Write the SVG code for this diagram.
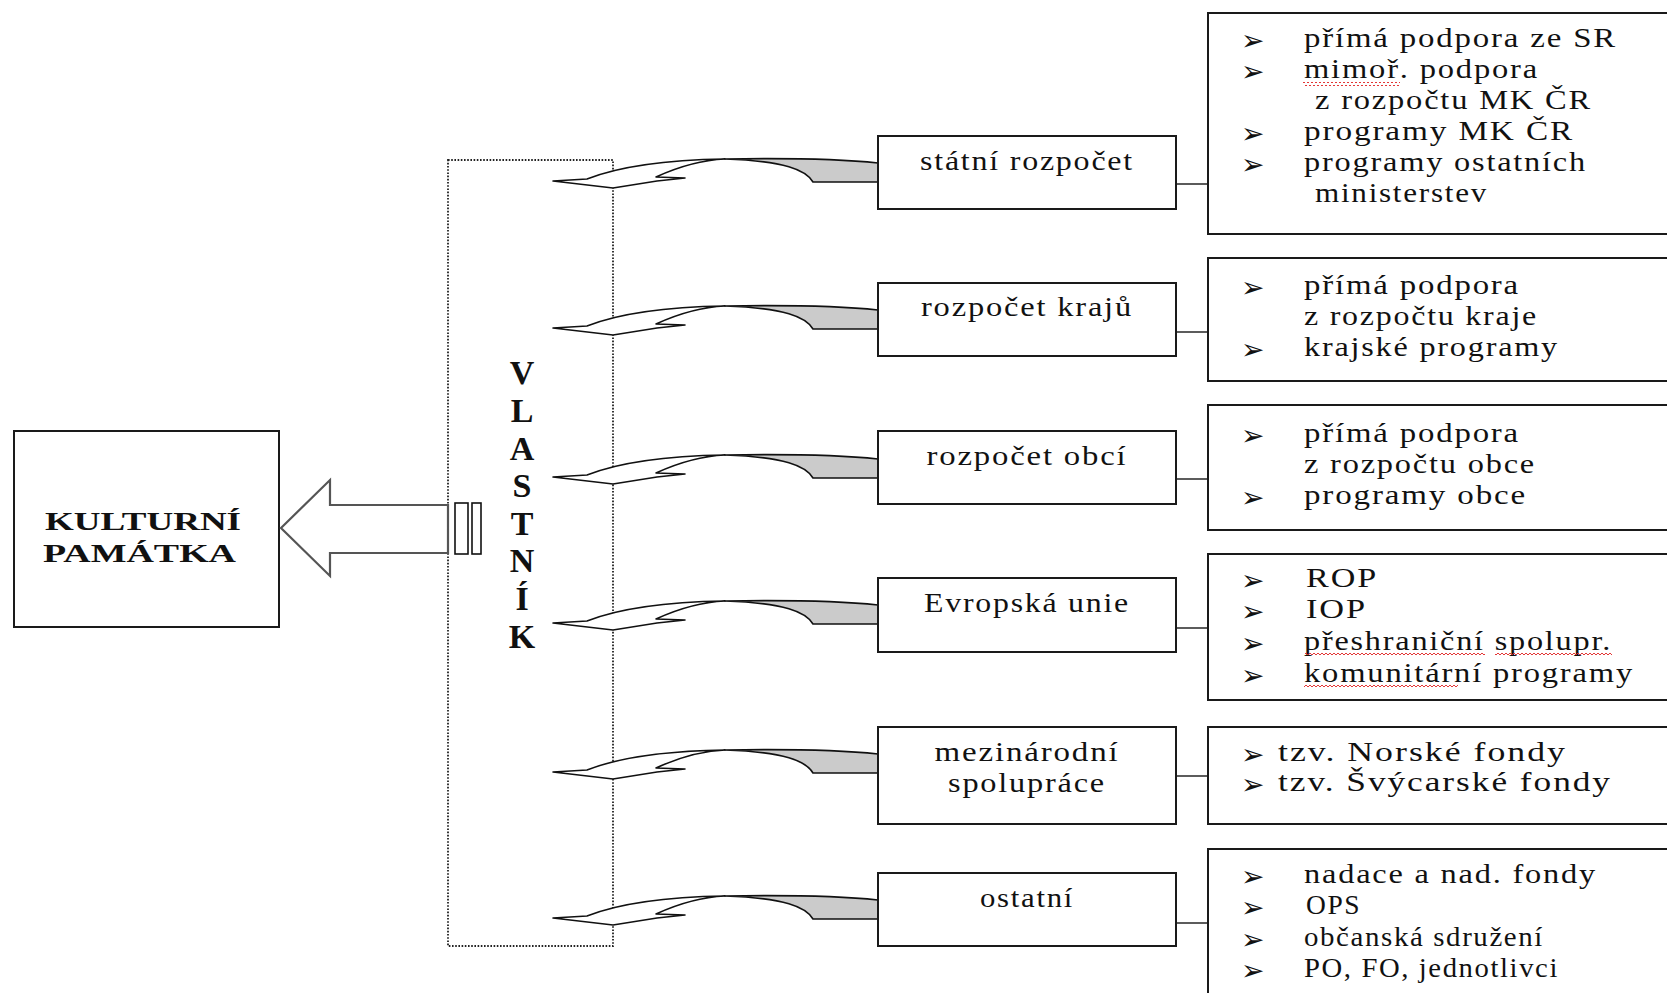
<svg xmlns="http://www.w3.org/2000/svg" width="1667" height="993" viewBox="0 0 1667 993">
<style>
.box{fill:#fff;stroke:#1a1a1a;stroke-width:2}
.t{font-family:"Liberation Serif",serif;font-size:27px;letter-spacing:1.5px;fill:#111}
.tb{font-family:"Liberation Serif",serif;font-size:25px;font-weight:bold;fill:#111}
.v{font-family:"Liberation Serif",serif;font-size:34px;font-weight:bold;fill:#111}
.b{font-family:"DejaVu Sans",sans-serif;font-size:28px;fill:#111}
.conn{stroke:#333;stroke-width:1.6;fill:none}
.cw{fill:#fff;stroke:#111;stroke-width:1.6;stroke-linejoin:round}
.cg{fill:#cbcbcb;stroke:#111;stroke-width:1.6;stroke-linejoin:round}
.dot{fill:none;stroke:#222;stroke-width:1.8;stroke-dasharray:1.6 1.6}
</style>
<defs>
<pattern id="squig" width="4" height="4" patternUnits="userSpaceOnUse">
<path d="M0,3 L2,1 L4,3" fill="none" stroke="#e02020" stroke-width="0.9"/>
</pattern>
<g id="carrow">
<path class="cw" d="M553,181 L587,179 C615,168 660,160 725,159 C702,160 680,166 656,177 L685,178 L657,181 L613,188 Z"/>
<path class="cg" d="M725,159 C785,158 840,159 878,163 L878,182 L813,182 C806,170 785,161 725,159 Z"/>
</g>
</defs>
<rect width="1667" height="993" fill="#fff"/>

<g id="vlastnik">
<rect class="dot" x="448" y="160" width="165" height="786"/>
<text class="v" text-anchor="middle"><tspan x="522" y="384">V</tspan><tspan x="522" y="422">L</tspan><tspan x="522" y="460">A</tspan><tspan x="522" y="497">S</tspan><tspan x="522" y="535">T</tspan><tspan x="522" y="572">N</tspan><tspan x="522" y="610">Í</tspan><tspan x="522" y="648">K</tspan></text>
</g>

<g id="pamatka">
<rect class="box" x="14" y="431" width="265" height="196"/>
<text class="tb"><tspan x="45" y="530" textLength="196" lengthAdjust="spacingAndGlyphs">KULTURNÍ</tspan><tspan x="43" y="562" textLength="193" lengthAdjust="spacingAndGlyphs">PAMÁTKA</tspan></text>
</g>

<g id="connectors">
<path d="M281,528 L330,480 L330,505 L448,505 L448,553 L330,553 L330,576 Z" fill="#fff" stroke="#555" stroke-width="2.2" stroke-linejoin="miter"/>
<rect x="455" y="503" width="13" height="51" fill="#fff" stroke="#111" stroke-width="1.6"/>
<rect x="472" y="503" width="9" height="51" fill="#fff" stroke="#111" stroke-width="1.6"/>
<use href="#carrow"/>
<use href="#carrow" transform="translate(0,147)"/>
<use href="#carrow" transform="translate(0,296)"/>
<use href="#carrow" transform="translate(0,442)"/>
<use href="#carrow" transform="translate(0,591)"/>
<use href="#carrow" transform="translate(0,737)"/>
<line class="conn" x1="1176" y1="184" x2="1208" y2="184"/>
<line class="conn" x1="1176" y1="332" x2="1208" y2="332"/>
<line class="conn" x1="1176" y1="479" x2="1208" y2="479"/>
<line class="conn" x1="1176" y1="628" x2="1208" y2="628"/>
<line class="conn" x1="1176" y1="776" x2="1208" y2="776"/>
<line class="conn" x1="1176" y1="923" x2="1208" y2="923"/>
</g>

<g id="statni">
<rect class="box" x="878" y="136" width="298" height="73"/>
<text class="t" x="1027" y="170" text-anchor="middle" textLength="214" lengthAdjust="spacingAndGlyphs">státní rozpočet</text>
</g>
<g id="statni-list">
<rect class="box" x="1208" y="13" width="470" height="221"/>
<text class="b" x="1241" y="50">➢</text><text class="t" x="1304" y="47" textLength="313" lengthAdjust="spacingAndGlyphs">přímá podpora ze SR</text>
<text class="b" x="1241" y="81">➢</text><text class="t" x="1304" y="78" textLength="235" lengthAdjust="spacingAndGlyphs">mimoř. podpora</text>
<rect x="1303" y="82" width="97" height="4" fill="url(#squig)"/>
<text class="t" x="1315" y="109" textLength="277" lengthAdjust="spacingAndGlyphs">z rozpočtu MK ČR</text>
<text class="b" x="1241" y="143">➢</text><text class="t" x="1304" y="140" textLength="270" lengthAdjust="spacingAndGlyphs">programy MK ČR</text>
<text class="b" x="1241" y="174">➢</text><text class="t" x="1304" y="171" textLength="283" lengthAdjust="spacingAndGlyphs">programy ostatních</text>
<text class="t" x="1315" y="202" textLength="173" lengthAdjust="spacingAndGlyphs">ministerstev</text>
</g>

<g id="kraje">
<rect class="box" x="878" y="283" width="298" height="73"/>
<text class="t" x="1027" y="316" text-anchor="middle" textLength="212" lengthAdjust="spacingAndGlyphs">rozpočet krajů</text>
</g>
<g id="kraje-list">
<rect class="box" x="1208" y="258" width="470" height="123"/>
<text class="b" x="1241" y="297">➢</text><text class="t" x="1304" y="294" textLength="216" lengthAdjust="spacingAndGlyphs">přímá podpora</text>
<text class="t" x="1304" y="325" textLength="234" lengthAdjust="spacingAndGlyphs">z rozpočtu kraje</text>
<text class="b" x="1241" y="359">➢</text><text class="t" x="1304" y="356" textLength="255" lengthAdjust="spacingAndGlyphs">krajské programy</text>
</g>

<g id="obce">
<rect class="box" x="878" y="431" width="298" height="73"/>
<text class="t" x="1027" y="465" text-anchor="middle" textLength="201" lengthAdjust="spacingAndGlyphs">rozpočet obcí</text>
</g>
<g id="obce-list">
<rect class="box" x="1208" y="405" width="470" height="125"/>
<text class="b" x="1241" y="445">➢</text><text class="t" x="1304" y="442" textLength="216" lengthAdjust="spacingAndGlyphs">přímá podpora</text>
<text class="t" x="1304" y="473" textLength="232" lengthAdjust="spacingAndGlyphs">z rozpočtu obce</text>
<text class="b" x="1241" y="507">➢</text><text class="t" x="1304" y="504" textLength="223" lengthAdjust="spacingAndGlyphs">programy obce</text>
</g>

<g id="eu">
<rect class="box" x="878" y="578" width="298" height="74"/>
<text class="t" x="1027" y="612" text-anchor="middle" textLength="206" lengthAdjust="spacingAndGlyphs">Evropská unie</text>
</g>
<g id="eu-list">
<rect class="box" x="1208" y="554" width="470" height="146"/>
<text class="b" x="1241" y="590">➢</text><text class="t" x="1306" y="587" textLength="72" lengthAdjust="spacingAndGlyphs">ROP</text>
<text class="b" x="1241" y="621">➢</text><text class="t" x="1306" y="618" textLength="61" lengthAdjust="spacingAndGlyphs">IOP</text>
<text class="b" x="1241" y="653">➢</text><text class="t" x="1304" y="650" textLength="308" lengthAdjust="spacingAndGlyphs">přeshraniční spolupr.</text>
<rect x="1305" y="653" width="180" height="4" fill="url(#squig)"/>
<rect x="1495" y="653" width="117" height="4" fill="url(#squig)"/>
<text class="b" x="1241" y="685">➢</text><text class="t" x="1304" y="682" textLength="330" lengthAdjust="spacingAndGlyphs">komunitární programy</text>
<rect x="1304" y="685" width="154" height="4" fill="url(#squig)"/>
</g>

<g id="mezinarodni">
<rect class="box" x="878" y="727" width="298" height="97"/>
<text class="t" text-anchor="middle"><tspan x="1027" y="761" textLength="185" lengthAdjust="spacingAndGlyphs">mezinárodní</tspan><tspan x="1027" y="792" textLength="158" lengthAdjust="spacingAndGlyphs">spolupráce</tspan></text>
</g>
<g id="mezinarodni-list">
<rect class="box" x="1208" y="727" width="470" height="97"/>
<text class="b" x="1241" y="764">➢</text><text class="t" x="1278" y="761" textLength="289" lengthAdjust="spacingAndGlyphs">tzv. Norské fondy</text>
<text class="b" x="1241" y="794">➢</text><text class="t" x="1278" y="791" textLength="334" lengthAdjust="spacingAndGlyphs">tzv. Švýcarské fondy</text>
</g>

<g id="ostatni">
<rect class="box" x="878" y="873" width="298" height="73"/>
<text class="t" x="1027" y="907" text-anchor="middle" textLength="94" lengthAdjust="spacingAndGlyphs">ostatní</text>
</g>
<g id="ostatni-list">
<rect class="box" x="1208" y="849" width="470" height="160"/>
<text class="b" x="1241" y="886">➢</text><text class="t" x="1304" y="883" textLength="293" lengthAdjust="spacingAndGlyphs">nadace a nad. fondy</text>
<text class="b" x="1241" y="917">➢</text><text class="t" x="1306" y="914" textLength="55" lengthAdjust="spacingAndGlyphs">OPS</text>
<text class="b" x="1241" y="949">➢</text><text class="t" x="1304" y="946" textLength="240" lengthAdjust="spacingAndGlyphs">občanská sdružení</text>
<text class="b" x="1241" y="980">➢</text><text class="t" x="1304" y="977" textLength="255" lengthAdjust="spacingAndGlyphs">PO, FO, jednotlivci</text>
</g>
</svg>
